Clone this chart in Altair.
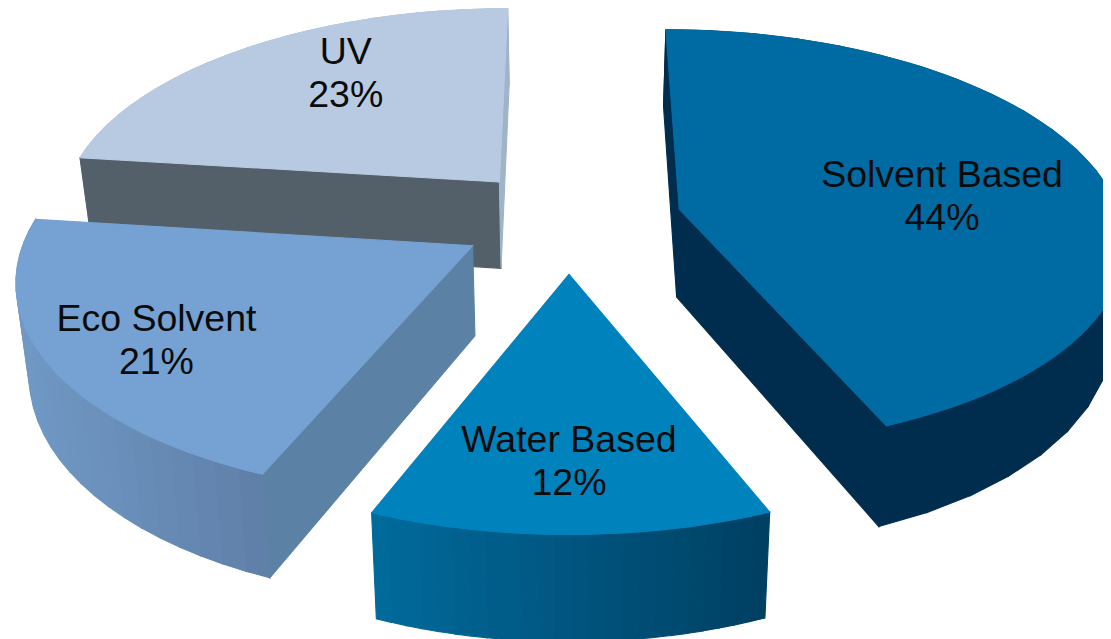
import numpy as np
import pandas as pd
import altair as alt

# Values (drawn back to front)
names = ["UV", "Eco Solvent", "Solvent Based", "Water Based"]
shares = [23, 21, 44, 12]
clockwise_start = [277.2, 202.2, 0.0, 157.7]
sweep = [82.8, 75.0, 157.7, 44.2]
explode = [108.0, 110.0, 113.0, 114.0]

top_colors = ["#B8CAE1", "#75A2D2", "#006BA3", "#0082BD"]
start_wall_colors = ["#535F69", "#5B82A5", "#002D4E", "#003F62"]
end_wall_colors = ["#A0B4C8", "#5B82A5", "#002D4E", "#003F62"]
rim_left_colors = ["#A0B4C8", "#7099C5", "#002D4E", "#006B9C"]
rim_right_colors = ["#A0B4C8", "#5F7FA8", "#002D4E", "#003F62"]

label_angle = [326.4, 237.6, 83.7, 180.0]
label_radius = [0.72, 0.769, 0.61, 0.747]

# 3-D view of the pie
CX, CY, HORIZON = 569.0, 219.0, -1270.0
DIST, RADIUS, DEPTH, SQUEEZE = 3180.0, 442.0, 88.5, 0.024


def project(u, w):
    s = 1.0 / (1.0 + w / DIST)
    return CX + u * s, HORIZON + (CY - HORIZON) * s, s


def top_pt(a, r, m, e):
    u = e * np.sin(m) + r * np.sin(a)
    w = e * np.cos(m) + r * np.cos(a)
    return project(u, w)


def low_pt(a, r, m, e):
    x, y, s = top_pt(a, r, m, e)
    return x - (x - CX) * SQUEEZE, y + DEPTH * s


def mix(c1, c2, t):
    a = [int(c1[i:i + 2], 16) for i in (1, 3, 5)]
    b = [int(c2[i:i + 2], 16) for i in (1, 3, 5)]
    return "#%02x%02x%02x" % tuple(int(round(p + (q - p) * t)) for p, q in zip(a, b))


rows = []
poly_id = [0]


def add_poly(points, color):
    poly_id[0] += 1
    for k, (x, y) in enumerate(points):
        rows.append({"poly": poly_id[0], "step": k, "px": x, "py": y, "paint": color})


labels = []
for i, name in enumerate(names):
    e = explode[i]
    a0 = np.radians(clockwise_start[i])
    a1 = a0 + np.radians(sweep[i])
    mid = np.radians([318.6, 239.4, 79.2, 180.0][i])
    arc = np.linspace(a0, a1, 73)

    # outer rim, in narrow bands
    bands = np.linspace(a0, a1, 25)
    xs = [top_pt(b, RADIUS, mid, e)[0] for b in bands]
    lo, hi = min(xs), max(xs)
    for j in range(24):
        b0, b1 = bands[j], bands[j + 1]
        t = (top_pt((b0 + b1) / 2, RADIUS, mid, e)[0] - lo) / (hi - lo)
        pts = [top_pt(b0, RADIUS, mid, e)[:2], top_pt(b1, RADIUS, mid, e)[:2],
               low_pt(b1, RADIUS, mid, e), low_pt(b0, RADIUS, mid, e)]
        add_poly(pts, mix(rim_left_colors[i], rim_right_colors[i], t))

    # radial walls that face the camera
    ax = e * np.sin(mid)
    aw = e * np.cos(mid)
    to_cam = (-ax, -DIST - aw)
    faces_list = [
        (a0, (-np.cos(a0), np.sin(a0)), start_wall_colors[i]),
        (a1, (np.cos(a1), -np.sin(a1)), end_wall_colors[i]),
    ]
    for ang, normal, col in faces_list:
        if normal[0] * to_cam[0] + normal[1] * to_cam[1] > 0:
            pts = [top_pt(ang, 0, mid, e)[:2], top_pt(ang, RADIUS, mid, e)[:2],
                   low_pt(ang, RADIUS, mid, e), low_pt(ang, 0, mid, e)]
            add_poly(pts, col)

    # top face
    pts = [top_pt(a0, 0, mid, e)[:2]] + [top_pt(a, RADIUS, mid, e)[:2] for a in arc]
    add_poly(pts, top_colors[i])

    lx, ly, _ = top_pt(np.radians(label_angle[i]), RADIUS * label_radius[i], mid, e)
    labels.append({"px": lx, "py": ly, "txt": f"{name}\n{shares[i]}%"})

shapes = pd.DataFrame(rows)
texts = pd.DataFrame(labels)

X = alt.X("px:Q", axis=None, scale=alt.Scale(domain=[8, 1103], nice=False, zero=False))
Y = alt.Y("py:Q", axis=None, scale=alt.Scale(domain=[8, 639], reverse=True, nice=False, zero=False))

faces = alt.Chart(shapes).mark_line(interpolate="linear-closed", strokeWidth=1.1, clip=True).encode(
    x=X, y=Y,
    order=alt.Order("step:Q"),
    detail=alt.Detail("poly:O"),
    fill=alt.Fill("paint:N", scale=None),
    stroke=alt.Stroke("paint:N", scale=None),
)

words = alt.Chart(texts).mark_text(
    font="Liberation Sans", fontSize=37.5, lineBreak="\n", lineHeight=43, dy=-20,
    align="center", baseline="middle", color="#0b0b0b",
).encode(x=X, y=Y, text="txt:N")

chart = (faces + words).properties(width=1095, height=631, padding=0, autosize="none").configure_view(stroke=None)
chart.save("out.html", embed_options={"renderer": "svg", "actions": False})
